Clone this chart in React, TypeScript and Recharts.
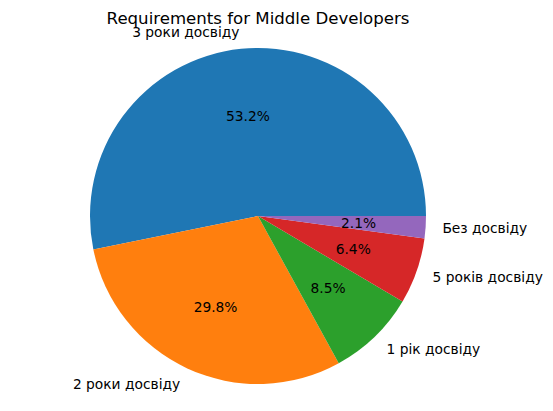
import React from "react"
import { PieChart, Pie, Cell } from "recharts"

const labels = ["3 роки досвіду", "2 роки досвіду", "1 рік досвіду", "5 років досвіду", "Без досвіду"]
const counts = [25, 14, 4, 3, 1]
const colors = ["#1f77b4", "#ff7f0e", "#2ca02c", "#d62728", "#9467bd"]

const data = labels.map((name, i) => ({ name, value: counts[i] }))
const RAD = Math.PI / 180

const renderLabel = (props: any) => {
  const { cx, cy, midAngle, outerRadius, percent, name } = props
  const cos = Math.cos(-midAngle * RAD)
  const sin = Math.sin(-midAngle * RAD)
  const lx = cx + outerRadius * 1.1 * cos
  const ly = cy + outerRadius * 1.1 * sin
  const px = cx + outerRadius * 0.6 * cos
  const py = cy + outerRadius * 0.6 * sin
  return (
    <g>
      <text x={lx} y={ly} textAnchor={cos >= 0 ? "start" : "end"} dominantBaseline="central" fontSize={13.8} fill="#000">
        {name}
      </text>
      <text x={px} y={py} textAnchor="middle" dominantBaseline="central" fontSize={13.8} fill="#000">
        {(percent * 100).toFixed(1)}%
      </text>
    </g>
  )
}

export default function App() {
  return (
    <div style={{ position: "absolute", left: 0, top: 0, width: 553, height: 411, background: "#fff", fontFamily: "DejaVu Sans" }}>
      <PieChart width={553} height={411} margin={{ top: 0, right: 0, bottom: 0, left: 0 }}>
        <text x={258} y={18} textAnchor="middle" dominantBaseline="central" fontSize={16.6} fill="#000">
          Requirements for Middle Developers
        </text>
        <Pie
          data={data}
          dataKey="value"
          nameKey="name"
          cx={258}
          cy={216}
          outerRadius={168}
          startAngle={0}
          endAngle={360}
          stroke="none"
          label={renderLabel}
          labelLine={false}
          isAnimationActive={false}
        >
          {data.map((d, i) => (
            <Cell key={d.name} fill={colors[i]} />
          ))}
        </Pie>
      </PieChart>
    </div>
  )
}
